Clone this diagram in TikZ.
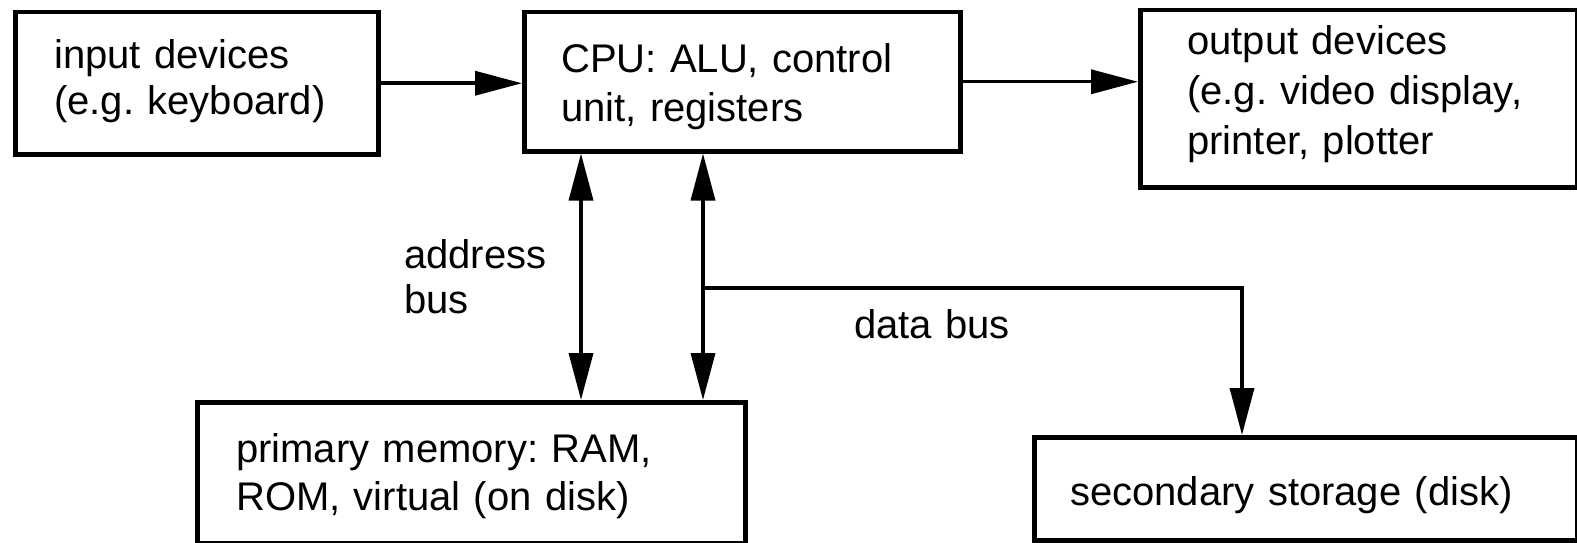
\documentclass[tikz,border=0pt]{standalone}
\usepackage{fontspec}
\setmainfont{Liberation Sans}
\usetikzlibrary{arrows.meta}
\frenchspacing
\tikzset{
  unitbox/.style={draw, line width=4.5pt, inner sep=0pt, anchor=north west},
  boxtext/.style={anchor=base west, inner sep=0pt, align=left, text width=#1,
    font=\fontsize{40}{48}\selectfont},
  conn/.style={line width=3.5pt},
  arr/.style={conn, -{Triangle[length=47pt,width=24pt]}},
  dblarr/.style={conn, {Triangle[length=47pt,width=24pt]}-{Triangle[length=47pt,width=24pt]}},
}
\begin{document}
\begin{tikzpicture}[x=1pt,y=-1pt]
  \fill[white] (0,0) rectangle (1577,543);
  \useasboundingbox (0,0) rectangle (1577,543);

  % units of the computer
  \node[unitbox, minimum width=363pt, minimum height=142pt] (inp) at (13,10) {};
  \node[unitbox, minimum width=436pt, minimum height=139pt] (cpu) at (522,10) {};
  \node[unitbox, minimum width=437pt, minimum height=177pt] (out) at (1138,8) {};
  \node[unitbox, minimum width=548pt, minimum height=141pt] (mem) at (195,400) {};
  \node[unitbox, minimum width=543pt, minimum height=103pt] (sec) at (1032,435) {};

  % unit descriptions
  \node[boxtext=320pt, font=\fontsize{40}{46}\selectfont] (inptxt) at (54,69)
    {input devices\\(e.g. keyboard)};
  \node[boxtext=380pt, font=\fontsize{40}{49}\selectfont] (cputxt) at (561,73)
    {CPU: ALU, control\\unit, registers};
  \node[boxtext=380pt, font=\fontsize{40}{50}\selectfont] (outtxt) at (1187,55)
    {output devices\\(e.g. video display,\\printer, plotter};
  \node[boxtext=500pt] (memtxt) at (236,462) {primary memory: RAM,\\ROM, virtual (on disk)};
  \node[boxtext=500pt] (sectxt) at (1070,505) {secondary storage (disk)};

  % bus labels
  \node[boxtext=200pt, font=\fontsize{40}{45}\selectfont] (addrlbl) at (404,268) {address\\bus};
  \node[boxtext=200pt] (datalbl) at (854,338) {data bus};

  % bus positions
  \coordinate (abus) at (581,0);
  \coordinate (dbus) at (703,0);
  \coordinate (branch) at (703,288);
  \coordinate (secin) at (1242,0);

  % connectors
  \draw[arr] (inp.east) -- (inp.east -| cpu.west);
  \draw[arr] (cpu.east) -- (cpu.east -| out.west);
  \draw[dblarr] (abus |- cpu.south) -- (abus |- mem.north);
  \draw[dblarr] (dbus |- cpu.south) -- (dbus |- mem.north);
  \draw[arr] (branch) -| (secin |- sec.north);
\end{tikzpicture}
\end{document}
